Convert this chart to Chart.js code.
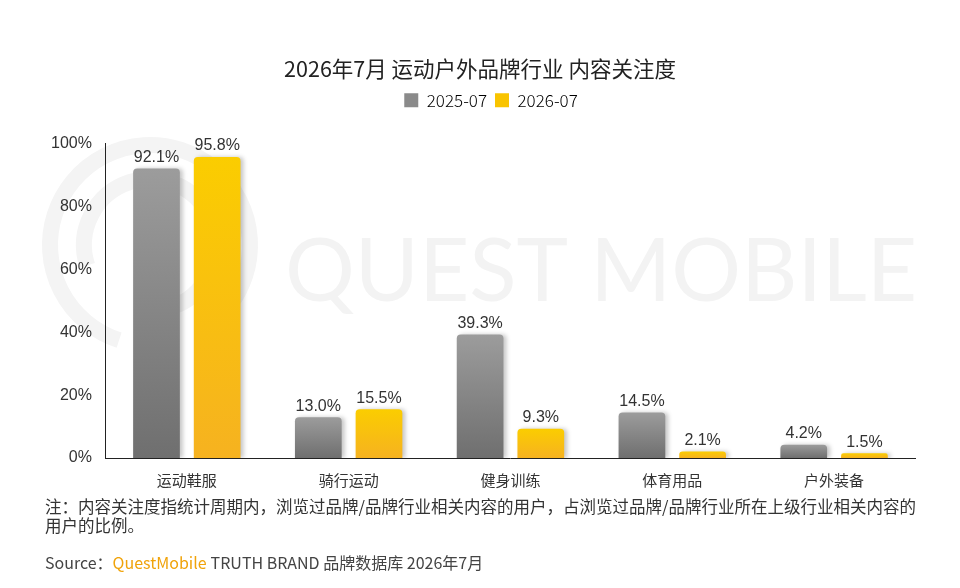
<!DOCTYPE html>
<html>
<head>
<meta charset="utf-8">
<script src="https://cdn.jsdelivr.net/npm/chart.js@4.4.1/dist/chart.umd.min.js"></script>
<style>
    html, body { margin: 0; padding: 0; background: #fff; }
    #wrap { width: 960px; height: 588px; position: relative; }
</style>
</head>
<body>
<div id="wrap"><canvas id="chart" width="960" height="588"></canvas></div>
<script>
const categories = ['运动鞋服', '骑行运动', '健身训练', '体育用品', '户外装备'];
const series2025 = [92.1, 13.0, 39.3, 14.5, 4.2];
const series2026 = [95.8, 15.5, 9.3, 2.1, 1.5];
const seriesNames = ['2025-07', '2026-07'];
const yTicks = [0, 20, 40, 60, 80, 100];

const FONT = '"Noto Sans CJK SC", "Noto Sans", sans-serif';
const ARIAL = 'Arial, "Liberation Sans", sans-serif';
const noteText1 = '注：内容关注度指统计周期内，浏览过品牌/品牌行业相关内容的用户，占浏览过品牌/品牌行业所在上级行业相关内容的';
const noteText2 = '用户的比例。';

// gradient per bar, from the bar top down to zero
function barGradient(top, bottom) {
    return function (context) {
        const chart = context.chart;
        if (!chart.chartArea || context.type !== 'data') return bottom;
        const yScale = chart.scales.y;
        const y0 = yScale.getPixelForValue(context.parsed.y);
        const y1 = yScale.getPixelForValue(0);
        const g = chart.ctx.createLinearGradient(0, y0, 0, y1 + 0.01);
        g.addColorStop(0, top);
        g.addColorStop(1, bottom);
        return g;
    };
}

// extra room between the legend and the plot, and nudge title/legend right
const legendGap = {
    id: 'legendGap',
    beforeInit(chart) {
        const fit = chart.legend.fit;
        chart.legend.fit = function () {
            fit.call(this);
            this.height += 25;
        };
    },
    afterLayout(chart) {
        chart.legend.left += 15;
        chart.legend.right += 15;
        if (chart.titleBlock) {
            chart.titleBlock.left += 4;
            chart.titleBlock.right += 4;
        }
    }
};

// watermark behind everything
const watermark = {
    id: 'watermark',
    beforeDraw(chart) {
        const ctx = chart.ctx;
        ctx.save();
        ctx.strokeStyle = '#f4f4f4';
        ctx.lineWidth = 16;
        ctx.beginPath();
        ctx.arc(150, 245, 100, Math.PI * 0.6, Math.PI * 2.2);
        ctx.stroke();
        ctx.beginPath();
        ctx.arc(150, 245, 66, Math.PI * 0.9, Math.PI * 2.4);
        ctx.stroke();
        ctx.fillStyle = '#f3f3f3';
        ctx.font = '88px Lato, sans-serif';
        ctx.textBaseline = 'alphabetic';
        ctx.fillText('QUEST MOBILE', 285, 301, 632);
        ctx.restore();
    }
};

// bar shadows
const barShadow = {
    id: 'barShadow',
    beforeDatasetsDraw(chart) {
        const ctx = chart.ctx;
        ctx.save();
        ctx.shadowColor = 'rgba(0,0,0,0.22)';
        ctx.shadowBlur = 4;
        ctx.shadowOffsetX = 3;
        ctx.shadowOffsetY = 0;
    },
    afterDatasetsDraw(chart) {
        chart.ctx.restore();
    }
};

// value labels above bars
const valueLabels = {
    id: 'valueLabels',
    afterDatasetsDraw(chart) {
        const ctx = chart.ctx;
        ctx.save();
        ctx.font = '16px ' + ARIAL;
        ctx.fillStyle = '#333';
        ctx.textAlign = 'center';
        ctx.textBaseline = 'bottom';
        chart.data.datasets.forEach((ds, i) => {
            chart.getDatasetMeta(i).data.forEach((bar, j) => {
                ctx.fillText(ds.data[j].toFixed(1) + '%', bar.x, bar.y - 3);
            });
        });
        ctx.restore();
    }
};

// footnote and source
const footer = {
    id: 'footer',
    afterDraw(chart) {
        const ctx = chart.ctx;
        ctx.save();
        ctx.font = '16.5px ' + FONT;
        ctx.textBaseline = 'middle';
        ctx.textAlign = 'left';
        ctx.fillStyle = '#333';
        ctx.fillText(noteText1, 45, 507, 872);
        ctx.fillText(noteText2, 45, 526);
        ctx.font = '16px ' + FONT;
        let x = 45;
        const y = 563;
        ctx.fillStyle = '#444';
        ctx.fillText('Source：', x, y);
        x += ctx.measureText('Source：').width;
        ctx.fillStyle = '#f0a30a';
        ctx.fillText('QuestMobile', x, y);
        x += ctx.measureText('QuestMobile').width + 4;
        ctx.fillStyle = '#444';
        ctx.fillText('TRUTH BRAND 品牌数据库 2026年7月', x, y);
        ctx.restore();
    }
};

new Chart(document.getElementById('chart'), {
    type: 'bar',
    data: {
        labels: categories,
        datasets: [
            {
                label: seriesNames[0],
                data: series2025,
                backgroundColor: barGradient('#9c9c9c', '#6f6f6f'),
                borderRadius: { topLeft: 4, topRight: 4 },
                borderSkipped: 'bottom'
            },
            {
                label: seriesNames[1],
                data: series2026,
                backgroundColor: barGradient('#fbcd00', '#f6b220'),
                borderRadius: { topLeft: 4, topRight: 4 },
                borderSkipped: 'bottom'
            }
        ]
    },
    options: {
        responsive: false,
        animation: false,
        devicePixelRatio: 1,
        categoryPercentage: 0.75,
        barPercentage: 0.77,
        layout: { padding: { left: 37, right: 45, top: 20, bottom: 86 } },
        plugins: {
            title: {
                display: true,
                text: '2026年7月 运动户外品牌行业 内容关注度',
                color: '#222',
                font: { family: FONT, size: 21.5, weight: 'normal' },
                padding: { top: 36, bottom: 2 }
            },
            legend: {
                display: true,
                labels: {
                    color: '#555',
                    font: { family: FONT, size: 17, weight: 300 },
                    boxWidth: 14,
                    boxHeight: 14,
                    padding: 8,
                    generateLabels: () => [
                        { text: seriesNames[0], fillStyle: '#8a8a8a', strokeStyle: '#8a8a8a', lineWidth: 0, datasetIndex: 0 },
                        { text: seriesNames[1], fillStyle: '#f9c400', strokeStyle: '#f9c400', lineWidth: 0, datasetIndex: 1 }
                    ]
                }
            },
            tooltip: { enabled: false }
        },
        scales: {
            x: {
                grid: { display: false, drawTicks: false },
                border: { display: true, color: '#222', width: 1 },
                ticks: {
                    color: '#333',
                    font: { family: FONT, size: 15 },
                    padding: 13
                }
            },
            y: {
                min: 0,
                max: 100,
                afterBuildTicks: axis => { axis.ticks = yTicks.map(v => ({ value: v })); },
                grid: { display: false, drawTicks: false },
                border: { display: true, color: '#222', width: 1 },
                ticks: {
                    color: '#333',
                    font: { family: ARIAL, size: 16 },
                    padding: 14,
                    callback: v => v + '%'
                }
            }
        }
    },
    plugins: [legendGap, watermark, barShadow, valueLabels, footer]
});
</script>
</body>
</html>
